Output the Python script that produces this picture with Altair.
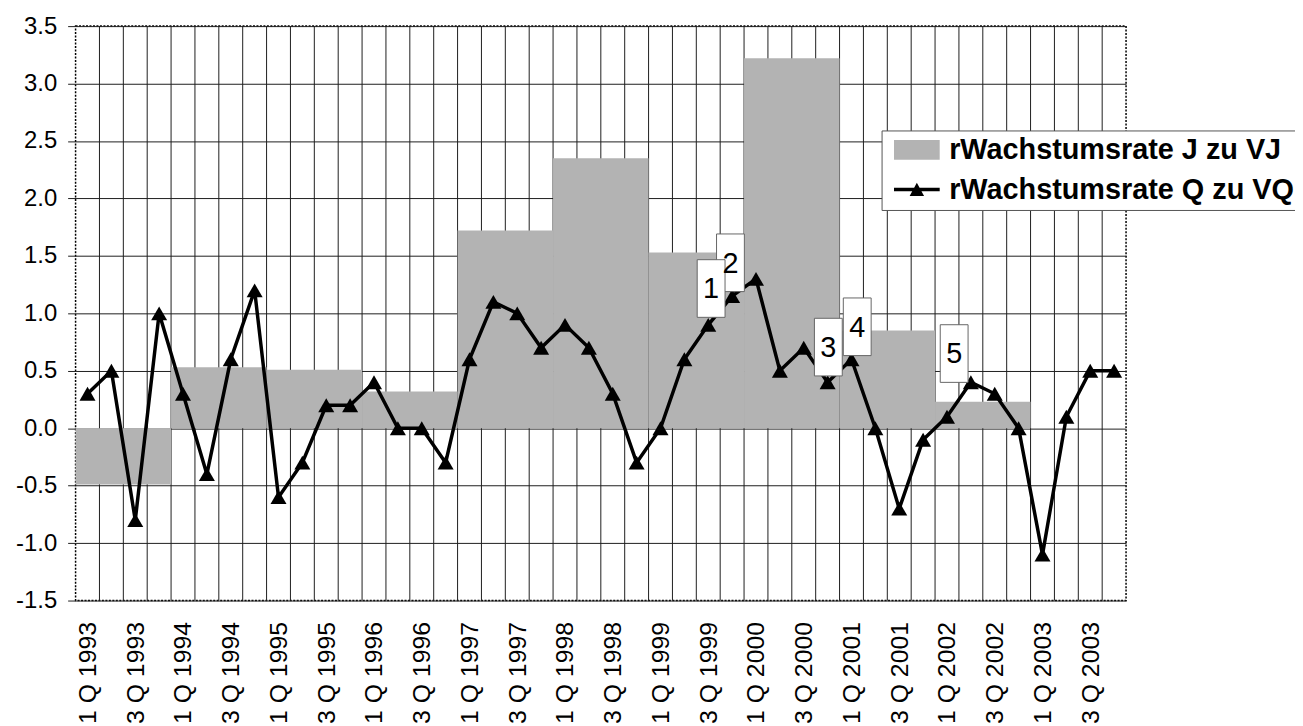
import json
import altair as alt
import pandas as pd

FONT = "Liberation Sans"
GRID = "#1e1e1e"
BAR = "#b3b3b3"

# ---------------- data ----------------
years = [1993, 1994, 1995, 1996, 1997, 1998, 1999, 2000, 2001, 2002, 2003]
quarters_in_year = [1, 2, 3, 4]
quarter_labels = [f"{q} Q {y}" for y in years for q in quarters_in_year]

# quarterly growth rate (Q zu VQ)
q_growth = [0.3, 0.5, -0.8, 1.0,
            0.3, -0.4, 0.6, 1.2,
            -0.6, -0.3, 0.2, 0.2,
            0.4, 0.0, 0.0, -0.3,
            0.6, 1.1, 1.0, 0.7,
            0.9, 0.7, 0.3, -0.3,
            0.0, 0.6, 0.9, 1.15,
            1.3, 0.5, 0.7, 0.4,
            0.6, 0.0, -0.7, -0.1,
            0.1, 0.4, 0.3, 0.0,
            -1.1, 0.1, 0.5, 0.5]

# annual growth rate (J zu VJ)
annual_years = [1993, 1994, 1995, 1996, 1997, 1998, 1999, 2000, 2001, 2002]
annual_growth = [-0.49, 0.53, 0.51, 0.32, 1.72, 2.35, 1.53, 3.22, 0.85, 0.23]

# numbered annotation boxes (text, centre in quarter units, centre in value units)
note_text = ["2", "1", "3", "4", "5"]
note_x = [27.43, 26.62, 31.53, 32.74, 36.80]
note_y = [1.44, 1.216, 0.706, 0.883, 0.650]

y_ticks = [-1.5, -1.0, -0.5, 0.0, 0.5, 1.0, 1.5, 2.0, 2.5, 3.0, 3.5]
SERIES = ["rWachstumsrate J zu VJ", "rWachstumsrate Q zu VQ"]

# ---------------- tables ----------------
n_q = len(quarter_labels)
line_df = pd.DataFrame({
    "idx": list(range(n_q)),
    "label": quarter_labels,
    "value": q_growth,
})
line_df["xpos"] = line_df["idx"] + 0.5

first_year = years[0]
bar_df = pd.DataFrame({"year": annual_years, "value": annual_growth})
bar_df["start"] = (bar_df["year"] - first_year) * 4
bar_df["end"] = bar_df["start"] + 4
bar_df["zero"] = 0.0

grid_df = pd.DataFrame({"b": list(range(1, n_q))})
note_df = pd.DataFrame({"t": note_text, "bx": note_x, "by": note_y})
legend_df = pd.DataFrame({"series": SERIES})

# ---------------- scales / axes ----------------
W, H = 1057, 578
x_scale = alt.Scale(domain=[0, n_q], nice=False, zero=False)
y_scale = alt.Scale(domain=[y_ticks[0], y_ticks[-1]], nice=False, zero=False)

label_js = json.dumps(quarter_labels)
x_axis = alt.Axis(
    values=[i + 0.5 for i in range(0, n_q, 2)],
    labelExpr=f"{label_js}[floor(datum.value)]",
    labelAngle=-90, labelFontSize=25, labelFont=FONT, labelColor="black",
    labelPadding=21, labelOverlap=False, labelFlush=False,
    ticks=False, domain=False, grid=False, title=None,
)
y_axis = alt.Axis(
    values=y_ticks,
    labelExpr="replace(format(datum.value, '.1f'), '\u2212', '-')",
    labelFontSize=24, labelFont=FONT, labelColor="black", labelPadding=11,
    tickSize=8, tickColor=GRID, tickWidth=1,
    grid=True, gridColor=GRID, gridWidth=1,
    domain=False, title=None,
)

BOX_PATH = "M-0.483,-1L0.483,-1L0.483,1L-0.483,1Z"
# legend symbols: nominal size 22px, drawn 46px wide
RECT_PATH = "M-2.09,-0.91L2.09,-0.91L2.09,0.91L-2.09,0.91Z"
LINE_PATH = "M-2.09,-0.16L2.09,-0.16L2.09,0.16L-2.09,0.16Z M-0.66,0.58L0,-0.62L0.66,0.58Z"

legend = alt.Legend(
    title=None, orient="none", legendX=811, legendY=105,
    labelFont=FONT, labelFontSize=29, labelFontWeight="bold", labelColor="black",
    labelLimit=0, labelOffset=18, symbolOffset=16,
    symbolSize=484, symbolStrokeWidth=0, symbolOpacity=1,
    strokeColor="#555555", fillColor="white", padding=5, rowPadding=10,
)

# ---------------- layers ----------------
vgrid = alt.Chart(grid_df).mark_rule(color=GRID, strokeWidth=1).encode(
    x=alt.X("b:Q", scale=x_scale, axis=x_axis)
)

bars = alt.Chart(bar_df).mark_rect(fill=BAR).encode(
    x=alt.X("start:Q", scale=x_scale, axis=x_axis),
    x2="end:Q",
    y=alt.Y("value:Q", scale=y_scale, axis=y_axis),
    y2="zero:Q",
)

line = alt.Chart(line_df).mark_line(color="black", strokeWidth=3.5).encode(
    x=alt.X("xpos:Q", scale=x_scale, axis=x_axis),
    y=alt.Y("value:Q", scale=y_scale, axis=y_axis),
)

points = alt.Chart(line_df).mark_point(
    shape="triangle-up", filled=True, fill="black", size=260, opacity=1
).encode(
    x=alt.X("xpos:Q", scale=x_scale, axis=x_axis),
    y=alt.Y("value:Q", scale=y_scale, axis=y_axis),
)

boxes = alt.Chart(note_df).mark_point(
    shape=BOX_PATH, filled=True, fill="white", stroke="#666666",
    strokeWidth=1, size=3364, opacity=1,
).encode(
    x=alt.X("bx:Q", scale=x_scale, axis=x_axis),
    y=alt.Y("by:Q", scale=y_scale, axis=y_axis),
)

texts = alt.Chart(note_df).mark_text(
    font=FONT, fontSize=29, color="black", baseline="middle", align="center", dy=1
).encode(
    x=alt.X("bx:Q", scale=x_scale, axis=x_axis),
    y=alt.Y("by:Q", scale=y_scale, axis=y_axis),
    text="t:N",
)

legend_layer = alt.Chart(legend_df).mark_point(filled=True, opacity=0).encode(
    shape=alt.Shape("series:N", scale=alt.Scale(domain=SERIES, range=[RECT_PATH, LINE_PATH]), legend=legend),
    color=alt.Color("series:N", scale=alt.Scale(domain=SERIES, range=[BAR, "black"]), legend=legend),
)

chart = alt.layer(vgrid, bars, line, points, boxes, texts, legend_layer).properties(
    width=W, height=H,
    autosize=alt.AutoSizeParams(type="none"),
    padding={"left": 68, "top": 16, "right": 170, "bottom": 124},
    background="white",
).configure_view(
    stroke="black", strokeDash=[2, 1.5], strokeWidth=1.5
)

chart.save("out.html", embed_options={"renderer": "svg", "actions": False})
